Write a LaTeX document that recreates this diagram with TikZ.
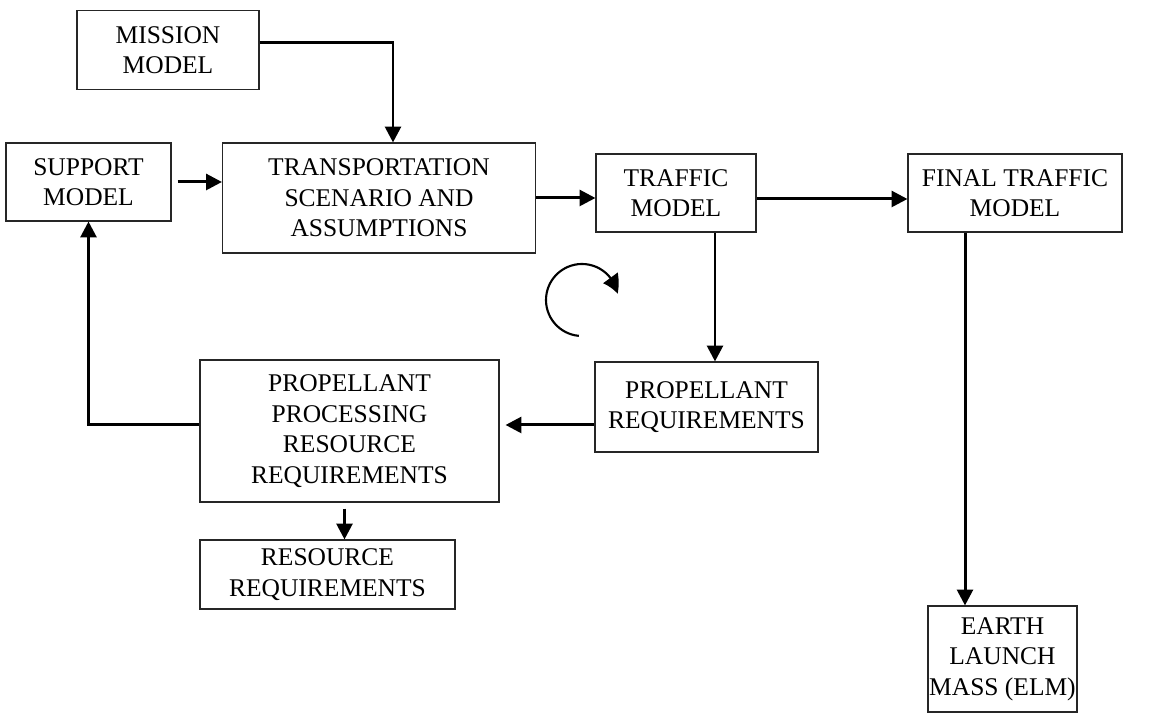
\documentclass[tikz,border=0pt]{standalone}
\usepackage{fontspec}
\setmainfont{Liberation Serif}
\usetikzlibrary{arrows.meta,bending}
\begin{document}
\begin{tikzpicture}[
		blk/.style={draw=black!85,line width=0.6pt,align=center,inner sep=0pt,
			font=\fontsize{14.5}{17.4}\selectfont},
		arr/.style={line width=1.7pt,-{Triangle[length=9pt,width=9pt]}}]
		\useasboundingbox (0,0) rectangle (23.08,14.3);
		\node[blk,minimum width=3.64cm,minimum height=1.58cm] (mission) at (3.36,13.3) {MISSION\\MODEL};
		\node[blk,minimum width=3.3cm,minimum height=1.56cm] (support) at (1.77,10.66) {SUPPORT\\MODEL};
		\node[blk,minimum width=6.26cm,minimum height=2.2cm] (transport) at (7.58,10.34) {TRANSPORTATION\\SCENARIO AND\\ASSUMPTIONS};
		\node[blk,minimum width=3.2cm,minimum height=1.56cm] (traffic) at (13.52,10.44) {TRAFFIC\\MODEL};
		\node[blk,minimum width=4.28cm,minimum height=1.56cm] (final) at (20.3,10.44) {FINAL TRAFFIC\\MODEL};
		\node[blk,minimum width=4.46cm,minimum height=1.8cm] (propreq) at (14.13,6.16) {PROPELLANT\\REQUIREMENTS};
		\node[blk,minimum width=5.98cm,minimum height=2.84cm] (proc) at (6.99,5.68) {PROPELLANT\\PROCESSING\\RESOURCE\\REQUIREMENTS};
		\node[blk,minimum width=5.1cm,minimum height=1.38cm] (resreq) at (6.55,2.81) {RESOURCE\\REQUIREMENTS};
		\node[blk,minimum width=2.98cm,minimum height=2.12cm] (elm) at (20.05,1.12) {EARTH\\LAUNCH\\MASS (ELM)};
		\coordinate (lvl) at (0,5.8);
		% connectors
		\draw[arr] ([yshift=0.15cm]mission.east) -| ([xshift=0.28cm]transport.north);
		\draw[arr] ([xshift=0.12cm]support.east) -- (support.east -| transport.west);
		\draw[arr] (transport.east) -- (transport.east -| traffic.west);
		\draw[arr] ([yshift=-0.12cm]traffic.east) -- ([yshift=-0.12cm]final.west);
		\draw[arr] ([xshift=0.78cm]traffic.south) -- ([xshift=0.78cm]traffic.south |- propreq.north);
		\draw[arr] (propreq.west |- lvl) -- ([xshift=0.12cm]proc.east |- lvl);
		\draw[arr] (proc.west |- lvl) -| (support.south);
		\draw[arr] ([xshift=-0.1cm,yshift=-0.12cm]proc.south) -- ([xshift=-0.1cm]proc.south |- resreq.north);
		\draw[arr] ([xshift=-1cm]final.south) -- ([xshift=-1cm]final.south |- elm.north);
		% loop symbol
		\draw[line width=1.2pt,-{Triangle[length=10pt,width=10pt,bend]}] (11.64,8.3) ++(-95:0.72) arc[start angle=-95,end angle=-350,radius=0.72];
	\end{tikzpicture}
\end{document}
